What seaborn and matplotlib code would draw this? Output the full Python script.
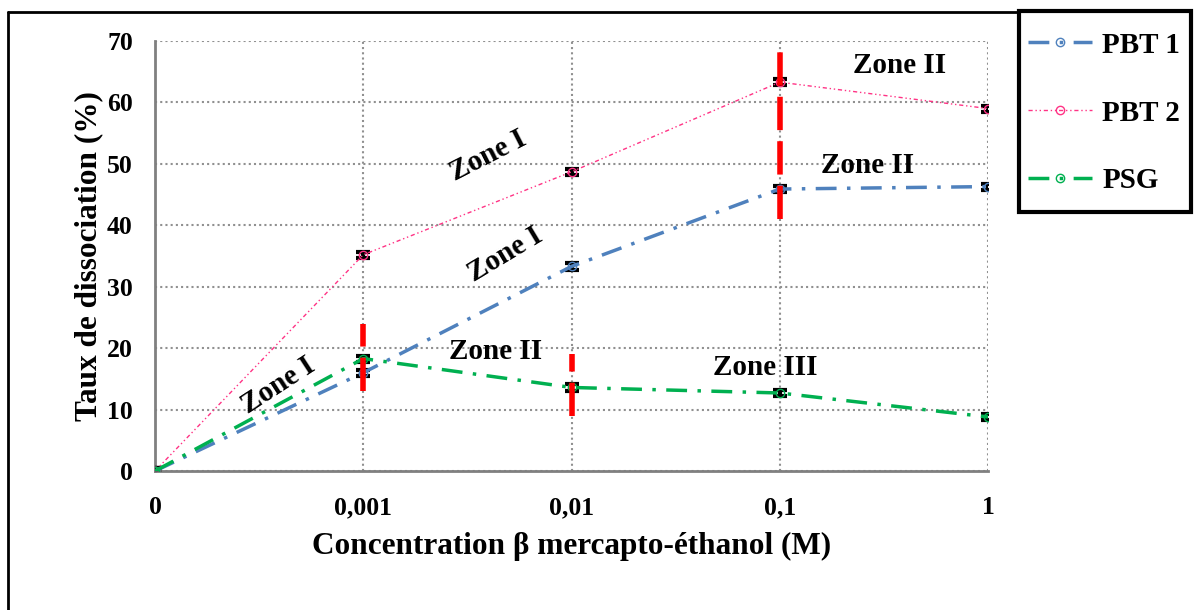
import numpy as np
import pandas as pd
import matplotlib.pyplot as plt
import seaborn as sns
from matplotlib.lines import Line2D
from matplotlib.patches import Rectangle

# data
concentrations = ["0", "0,001", "0,01", "0,1", "1"]
pbt1 = [0.0, 16.0, 33.3, 45.9, 46.3]
pbt2 = [0.0, 35.2, 48.7, 63.3, 59.0]
psg = [0.0, 18.3, 13.6, 12.7, 8.8]
err = [0.5, 0.5, 0.5, 0.5, 0.5]

# red zone separators: (category index, y start, y end)
sep_x = [1, 2, 3]
sep_lo = [13.0, 9.0, 41.0]
sep_hi = [24.0, 19.0, 69.0]

# zone labels: (text, x, y, rotation)
zone_txt = ["Zone I", "Zone I", "Zone I", "Zone II", "Zone II", "Zone II", "Zone III"]
zone_x = [0.59, 1.68, 1.60, 3.577, 3.424, 1.633, 2.93]
zone_y = [14.0, 35.3, 51.3, 66.0, 49.8, 19.4, 16.9]
zone_rot = [33, 31, 27, 0, 0, 0, 0]

sns.set_style("white")
plt.rcParams["font.family"] = ["Liberation Serif", "DejaVu Serif"]
plt.rcParams["font.weight"] = "bold"
plt.rcParams["text.color"] = "black"
plt.rcParams["axes.labelcolor"] = "black"

fig = plt.figure(figsize=(11.94, 6.10), dpi=100)
ax = fig.add_axes([155 / 1194, 1 - 471 / 610, (988 - 155) / 1194, (471 - 41) / 610])

xpos = np.arange(len(concentrations))
df = pd.DataFrame({"x": np.tile(xpos, 3),
                   "y": pbt1 + pbt2 + psg,
                   "serie": ["PBT 1"] * 5 + ["PBT 2"] * 5 + ["PSG"] * 5})

colors = {"PBT 1": "#4F81BD", "PBT 2": "#FF3385", "PSG": "#00B050"}
styles = {"PBT 1": (0, (6, 3, 1, 3)), "PBT 2": (0, (3, 2, 1, 2, 1, 2)), "PSG": (0, (6, 3, 1, 3))}
widths = {"PBT 1": 2.5, "PBT 2": 1.0, "PSG": 2.5}

for name, grp in df.groupby("serie"):
    ax.errorbar(grp["x"], grp["y"], yerr=err, fmt="none", ecolor="black",
                elinewidth=3, capsize=5, capthick=3, zorder=3)
    sns.lineplot(data=grp, x="x", y="y", ax=ax, color=colors[name],
                 linestyle=styles[name], linewidth=widths[name], marker="o",
                 markersize=6, markerfacecolor="none", markeredgecolor=colors[name],
                 markeredgewidth=1, zorder=4)

for x, lo, hi in zip(sep_x, sep_lo, sep_hi):
    ax.plot([x, x], [lo, hi], color="red", linewidth=4, linestyle=(0, (6, 2)), zorder=5)

for t, x, y, r in zip(zone_txt, zone_x, zone_y, zone_rot):
    ax.text(x, y, t, rotation=r, ha="center", va="center", fontsize=21,
            fontweight="bold", color="black", zorder=6)

ax.set_xlim(0, 4)
ax.set_ylim(0, 70)
ax.set_xticks(xpos)
ax.set_xticklabels(concentrations)
ax.set_yticks(range(0, 71, 10))
ax.tick_params(axis="both", labelsize=18.5, length=6, width=1.5, color="#808080",
               labelcolor="black", pad=10)
ax.tick_params(axis="x", length=0, pad=18)
ax.grid(True, color="#909090", linestyle=(0, (1, 1.5)), linewidth=1.5)
for s in ["top", "right"]:
    ax.spines[s].set_visible(False)
for s in ["left", "bottom"]:
    ax.spines[s].set_color("#808080")
    ax.spines[s].set_linewidth(2)
ax.set_xlabel("Concentration β mercapto-éthanol (M)", fontsize=22.5, fontweight="bold", labelpad=9)
ax.set_ylabel("Taux de dissociation (%)", fontsize=22.5, fontweight="bold", labelpad=3)

# outer frame (left and top edges) and legend box
fig.add_artist(Line2D([8 / 1194, 8 / 1194], [0, 1 - 12 / 610], color="black", linewidth=2))
fig.add_artist(Line2D([8 / 1194, 1018 / 1194], [1 - 12 / 610, 1 - 12 / 610], color="black", linewidth=2))
fig.add_artist(Rectangle((1019 / 1194, 1 - 212 / 610), 172 / 1194, 201 / 610,
                         transform=fig.transFigure, fill=False, edgecolor="black", linewidth=3))

handles = [Line2D([], [], color=colors[n], linestyle=styles[n], linewidth=widths[n],
                  marker="o", markersize=6, markerfacecolor="none",
                  markeredgecolor=colors[n]) for n in ["PBT 1", "PBT 2", "PSG"]]
fig.legend(handles, ["PBT 1", "PBT 2", "PSG"], loc="center left",
           bbox_to_anchor=(1028 / 1194, 1 - 113 / 610), frameon=False, borderpad=0,
           borderaxespad=0, prop={"size": 21, "weight": "bold"}, handlelength=2.2,
           labelspacing=1.4, handletextpad=0.35)

fig.savefig("out.png", dpi=100)
